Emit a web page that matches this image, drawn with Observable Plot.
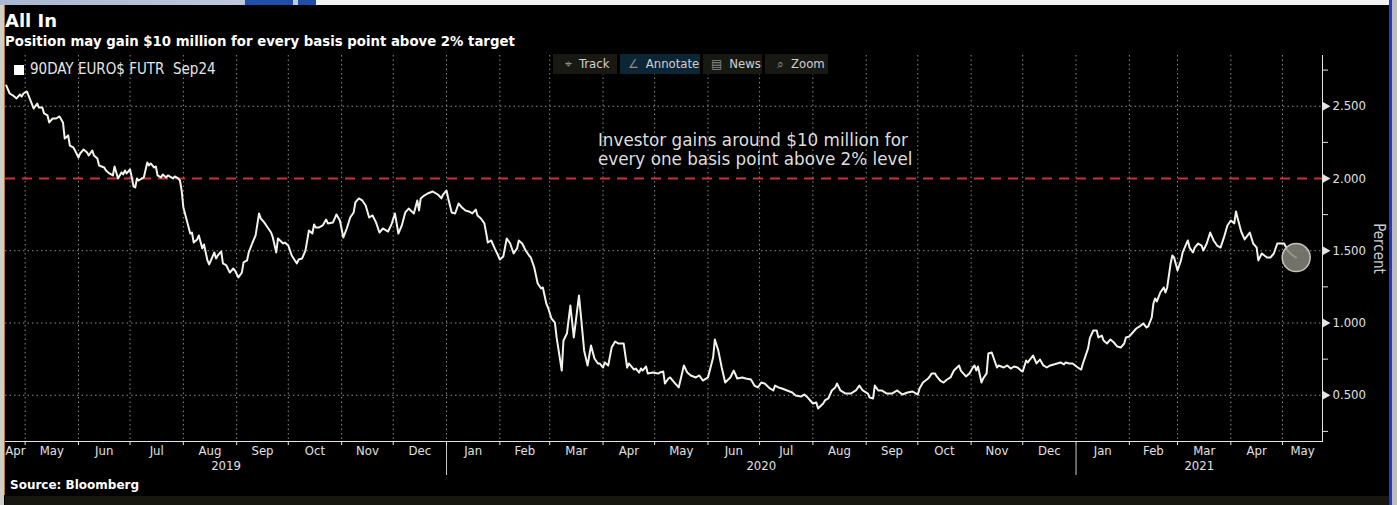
<!DOCTYPE html>
<html>
<head>
<meta charset="utf-8">
<script src="https://cdn.jsdelivr.net/npm/d3@7"></script>
<script src="https://cdn.jsdelivr.net/npm/@observablehq/plot@0.6"></script>
<style>
  html, body { margin: 0; padding: 0; background: #000; }
  body { width: 1397px; height: 505px; position: relative; overflow: hidden;
         font-family: "DejaVu Sans Condensed", "DejaVu Sans", sans-serif; }
  #title { position: absolute; left: 5px; top: 11px; font: bold 18px/20px "DejaVu Sans", sans-serif; color: #fff; white-space: nowrap; }
  #subtitle { position: absolute; left: 5px; top: 34px; font: bold 13.3px/15px "DejaVu Sans", sans-serif; color: #fff; white-space: nowrap; }
  #chart { position: absolute; left: 0; top: 50px; }
  #legend { position: absolute; left: 14px; top: 61px; font: 15px/17px "DejaVu Sans Condensed", sans-serif; color: #e6e6e6; white-space: nowrap; }
  #legend .sw { display: inline-block; width: 10px; height: 10px; background: #fff; margin-right: 6px; vertical-align: -1px; }
  #toolbar { position: absolute; left: 553px; top: 54px; height: 20px; }
  #toolbar span.btn { position: absolute; top: 0; height: 20px; font: 13px/20px "DejaVu Sans Condensed", sans-serif; color: #d0d0d0; background: #191914; box-sizing: border-box; white-space: nowrap; }
  #toolbar span.btn i { font-style: normal; color: #8d8d8d; margin-right: 7px; font-family: "DejaVu Sans", sans-serif; font-size: 12px; }
  #toolbar span.on { background: #0d2636; }
  #source { position: absolute; left: 10px; top: 478px; font: bold 12px/14px "DejaVu Sans", sans-serif; color: #fff; white-space: nowrap; }
  .edge { position: absolute; }
</style>
</head>
<body>
<div class="edge" style="left:0;top:0;width:1397px;height:5px;background:#f2f2f2"></div>
<div class="edge" style="left:0;top:0;width:312px;height:5px;background:linear-gradient(90deg,#a9b7d2,#c3cde0)"></div>
<div class="edge" style="left:245px;top:0;width:48px;height:5px;background:#1f4fa8"></div>
<div class="edge" style="left:298px;top:0;width:18px;height:5px;background:#1f4fa8"></div>
<div class="edge" style="left:0;top:5px;width:4px;height:500px;background:#cfcfc6"></div>
<div class="edge" style="left:4px;top:5px;width:1px;height:490px;background:#b8762a"></div>
<div class="edge" style="left:1389px;top:0;width:3px;height:505px;background:#2336d6"></div>
<div class="edge" style="left:1392px;top:0;width:5px;height:505px;background:#bdbdbd"></div>
<div class="edge" style="left:5px;top:496px;width:1384px;height:9px;background:#17170f"></div>

<div id="title"></div>
<div id="subtitle"></div>
<div id="chart"></div>
<div id="legend"><span class="sw"></span><span id="legendText"></span></div>
<div id="toolbar"></div>
<div id="source"></div>

<script>
// ---------- text ----------
const titleText = "All In";
const subtitleText = "Position may gain $10 million for every basis point above 2% target";
const sourceText = "Source: Bloomberg";
const legendLabel = "90DAY EURO$ FUTR\u00a0\u00a0Sep24";
const toolbarItems = [
  {label: "Track", icon: "\u2316", on: false},
  {label: "Annotate", icon: "\u2220", on: true},
  {label: "News", icon: "\u25a4", on: false},
  {label: "Zoom", icon: "\u2315", on: false}
];
const yAxisLabel = "Percent";
const annotationLines = ["Investor gains around $10 million for", "every one basis point above 2% level"];
const annotationAt = {date: "2020-03-29", value: 2.325};

// ---------- scales / ticks ----------
const xStart = "2019-04-19T14:00:00Z";
const xEnd = "2021-05-24T07:00:00Z";
const yDomain = [0.18, 2.851];
const yMajorTicks = [0.5, 1.0, 1.5, 2.0, 2.5];
const yMinorTicks = [0.25, 0.75, 1.25, 1.75, 2.25, 2.75];
const yGridLines = [0.5, 1.0, 1.5, 2.5];
const targetLevel = 2.0;

// ---------- series: 90-day Eurodollar future, Sep 2024 contract (implied rate, %) ----------
const euroDollarSep24 = [
["2019-04-20",2.644],["2019-04-22",2.588],["2019-04-24",2.574],["2019-04-26",2.554],["2019-04-28",2.581],["2019-04-29",2.567],["2019-04-30",2.588],
["2019-05-01",2.595],["2019-05-02",2.602],["2019-05-03",2.574],["2019-05-06",2.484],["2019-05-08",2.519],["2019-05-09",2.491],["2019-05-11",2.491],["2019-05-12",2.450],["2019-05-14",2.436],["2019-05-15",2.388],["2019-05-17",2.415],["2019-05-19",2.415],["2019-05-21",2.429],["2019-05-23",2.388],["2019-05-24",2.277],["2019-05-26",2.298],["2019-05-27",2.228],["2019-05-29",2.215],["2019-05-30",2.194],
["2019-06-01",2.145],["2019-06-02",2.173],["2019-06-04",2.201],["2019-06-06",2.180],["2019-06-07",2.159],["2019-06-09",2.194],["2019-06-10",2.159],["2019-06-12",2.138],["2019-06-13",2.090],["2019-06-16",2.076],["2019-06-17",2.055],["2019-06-19",2.035],["2019-06-21",2.021],["2019-06-22",2.083],["2019-06-23",2.042],["2019-06-24",2.000],["2019-06-26",2.042],["2019-06-27",2.028],["2019-06-28",2.055],["2019-06-29",2.035],
["2019-07-01",2.062],["2019-07-02",2.007],["2019-07-03",1.945],["2019-07-04",1.938],["2019-07-05",2.000],["2019-07-06",1.986],["2019-07-09",2.007],["2019-07-11",2.111],["2019-07-12",2.090],["2019-07-13",2.104],["2019-07-15",2.076],["2019-07-16",2.083],["2019-07-17",2.021],["2019-07-19",2.007],["2019-07-20",2.028],["2019-07-22",2.007],["2019-07-23",2.021],["2019-07-26",2.000],["2019-07-27",2.014],["2019-07-29",2.000],["2019-07-30",1.986],["2019-07-31",1.917],
["2019-08-01",1.799],["2019-08-03",1.709],["2019-08-05",1.619],["2019-08-06",1.626],["2019-08-07",1.557],["2019-08-09",1.578],["2019-08-10",1.606],["2019-08-12",1.516],["2019-08-13",1.543],["2019-08-15",1.433],["2019-08-16",1.405],["2019-08-19",1.488],["2019-08-20",1.446],["2019-08-21",1.467],["2019-08-23",1.495],["2019-08-24",1.412],["2019-08-26",1.398],["2019-08-28",1.349],["2019-08-30",1.377],["2019-08-31",1.363],
["2019-09-02",1.315],["2019-09-04",1.349],["2019-09-05",1.419],["2019-09-07",1.433],["2019-09-08",1.488],["2019-09-10",1.550],["2019-09-12",1.606],["2019-09-14",1.758],["2019-09-15",1.723],["2019-09-17",1.696],["2019-09-19",1.661],["2019-09-21",1.626],["2019-09-22",1.592],["2019-09-24",1.488],["2019-09-25",1.585],["2019-09-28",1.550],["2019-09-29",1.557],
["2019-10-01",1.536],["2019-10-03",1.467],["2019-10-06",1.412],["2019-10-07",1.439],["2019-10-09",1.446],["2019-10-11",1.502],["2019-10-13",1.640],["2019-10-15",1.619],["2019-10-16",1.682],["2019-10-17",1.661],["2019-10-19",1.661],["2019-10-21",1.675],["2019-10-23",1.716],["2019-10-24",1.689],["2019-10-27",1.696],["2019-10-29",1.751],["2019-10-31",1.709],
["2019-11-02",1.592],["2019-11-04",1.654],["2019-11-06",1.730],["2019-11-08",1.765],["2019-11-09",1.834],["2019-11-11",1.862],["2019-11-13",1.848],["2019-11-15",1.813],["2019-11-17",1.730],["2019-11-19",1.744],["2019-11-21",1.696],["2019-11-23",1.626],["2019-11-25",1.654],["2019-11-28",1.633],["2019-11-30",1.682],
["2019-12-02",1.758],["2019-12-04",1.619],["2019-12-06",1.675],["2019-12-08",1.765],["2019-12-10",1.792],["2019-12-13",1.758],["2019-12-15",1.848],["2019-12-16",1.779],["2019-12-17",1.862],["2019-12-19",1.882],["2019-12-21",1.896],["2019-12-24",1.910],["2019-12-27",1.889],["2019-12-29",1.862],["2019-12-30",1.889],
["2020-01-01",1.917],["2020-01-02",1.862],["2020-01-04",1.765],["2020-01-06",1.758],["2020-01-08",1.827],["2020-01-10",1.799],["2020-01-12",1.779],["2020-01-14",1.772],["2020-01-16",1.758],["2020-01-18",1.785],["2020-01-19",1.744],["2020-01-21",1.723],["2020-01-23",1.689],["2020-01-24",1.626],["2020-01-25",1.557],["2020-01-27",1.571],["2020-01-29",1.516],["2020-01-31",1.467],
["2020-02-01",1.439],["2020-02-03",1.460],["2020-02-04",1.522],["2020-02-05",1.585],["2020-02-07",1.550],["2020-02-09",1.481],["2020-02-11",1.516],["2020-02-12",1.571],["2020-02-14",1.550],["2020-02-16",1.502],["2020-02-18",1.467],["2020-02-19",1.453],["2020-02-21",1.384],["2020-02-23",1.273],["2020-02-25",1.239],["2020-02-26",1.246],["2020-02-28",1.135],["2020-02-29",1.107],
["2020-03-02",1.031],["2020-03-04",1.003],["2020-03-05",0.900],["2020-03-08",0.671],["2020-03-09",0.879],["2020-03-11",0.927],["2020-03-13",1.121],["2020-03-15",0.900],["2020-03-18",1.190],["2020-03-19",1.066],["2020-03-21",0.810],["2020-03-23",0.706],["2020-03-25",0.844],["2020-03-27",0.754],["2020-03-29",0.720],["2020-03-30",0.720],
["2020-04-01",0.692],["2020-04-02",0.727],["2020-04-04",0.706],["2020-04-06",0.830],["2020-04-08",0.872],["2020-04-10",0.858],["2020-04-13",0.858],["2020-04-15",0.692],["2020-04-16",0.720],["2020-04-19",0.678],["2020-04-20",0.685],["2020-04-22",0.657],["2020-04-23",0.685],["2020-04-24",0.671],["2020-04-26",0.699],["2020-04-27",0.650],["2020-04-30",0.657],
["2020-05-03",0.650],["2020-05-04",0.657],["2020-05-06",0.664],["2020-05-07",0.581],["2020-05-09",0.616],["2020-05-10",0.623],["2020-05-13",0.581],["2020-05-15",0.554],["2020-05-18",0.706],["2020-05-20",0.657],["2020-05-22",0.637],["2020-05-25",0.623],["2020-05-27",0.637],["2020-05-29",0.602],
["2020-06-01",0.623],["2020-06-04",0.761],["2020-06-05",0.886],["2020-06-07",0.810],["2020-06-09",0.692],["2020-06-11",0.588],["2020-06-14",0.623],["2020-06-16",0.671],["2020-06-18",0.616],["2020-06-21",0.623],["2020-06-23",0.616],["2020-06-26",0.609],["2020-06-28",0.567],["2020-06-30",0.554],
["2020-07-02",0.588],["2020-07-04",0.581],["2020-07-07",0.547],["2020-07-09",0.533],["2020-07-10",0.567],["2020-07-12",0.554],["2020-07-14",0.547],["2020-07-17",0.533],["2020-07-20",0.519],["2020-07-22",0.498],["2020-07-25",0.491],["2020-07-27",0.505],["2020-07-29",0.484],["2020-07-31",0.457],
["2020-08-01",0.443],["2020-08-03",0.450],["2020-08-04",0.408],["2020-08-07",0.443],["2020-08-08",0.464],["2020-08-10",0.478],["2020-08-12",0.533],["2020-08-14",0.554],["2020-08-15",0.581],["2020-08-17",0.533],["2020-08-20",0.512],["2020-08-23",0.512],["2020-08-26",0.533],["2020-08-28",0.567],["2020-08-30",0.533],
["2020-09-02",0.512],["2020-09-03",0.484],["2020-09-05",0.478],["2020-09-06",0.567],["2020-09-08",0.533],["2020-09-10",0.533],["2020-09-13",0.512],["2020-09-16",0.512],["2020-09-19",0.533],["2020-09-22",0.505],["2020-09-25",0.519],["2020-09-28",0.526],
["2020-10-01",0.505],["2020-10-02",0.547],["2020-10-04",0.588],["2020-10-07",0.616],["2020-10-08",0.630],["2020-10-09",0.651],["2020-10-11",0.651],["2020-10-12",0.630],["2020-10-14",0.602],["2020-10-16",0.588],["2020-10-18",0.609],["2020-10-20",0.623],["2020-10-22",0.671],["2020-10-25",0.706],["2020-10-26",0.671],["2020-10-29",0.630],["2020-10-31",0.651],
["2020-11-02",0.692],["2020-11-03",0.706],["2020-11-04",0.671],["2020-11-05",0.699],["2020-11-07",0.588],["2020-11-08",0.616],["2020-11-10",0.651],["2020-11-11",0.789],["2020-11-13",0.796],["2020-11-14",0.761],["2020-11-16",0.692],["2020-11-17",0.706],["2020-11-20",0.692],["2020-11-22",0.706],["2020-11-24",0.685],["2020-11-26",0.699],["2020-11-28",0.692],["2020-11-30",0.671],
["2020-12-01",0.664],["2020-12-03",0.740],["2020-12-04",0.727],["2020-12-07",0.775],["2020-12-09",0.720],["2020-12-11",0.747],["2020-12-13",0.706],["2020-12-15",0.692],["2020-12-17",0.706],["2020-12-19",0.713],["2020-12-21",0.720],["2020-12-23",0.727],["2020-12-25",0.713],["2020-12-26",0.727],["2020-12-28",0.720],["2020-12-30",0.720],
["2021-01-02",0.692],["2021-01-04",0.678],["2021-01-05",0.720],["2021-01-08",0.824],["2021-01-09",0.893],["2021-01-11",0.948],["2021-01-13",0.948],["2021-01-14",0.900],["2021-01-16",0.913],["2021-01-17",0.879],["2021-01-19",0.858],["2021-01-21",0.886],["2021-01-23",0.865],["2021-01-25",0.837],["2021-01-27",0.830],["2021-01-29",0.858],["2021-01-30",0.900],
["2021-02-01",0.907],["2021-02-03",0.934],["2021-02-05",0.962],["2021-02-07",0.976],["2021-02-09",0.997],["2021-02-11",0.969],["2021-02-12",0.976],["2021-02-14",1.038],["2021-02-15",1.135],["2021-02-16",1.170],["2021-02-17",1.149],["2021-02-19",1.211],["2021-02-21",1.246],["2021-02-22",1.211],["2021-02-23",1.246],["2021-02-25",1.412],["2021-02-26",1.467],["2021-02-27",1.453],
["2021-03-01",1.363],["2021-03-03",1.433],["2021-03-04",1.488],["2021-03-07",1.571],["2021-03-08",1.522],["2021-03-10",1.488],["2021-03-11",1.522],["2021-03-13",1.550],["2021-03-15",1.536],["2021-03-16",1.502],["2021-03-18",1.550],["2021-03-20",1.626],["2021-03-22",1.571],["2021-03-24",1.536],["2021-03-26",1.522],["2021-03-28",1.592],["2021-03-30",1.675],
["2021-04-01",1.709],["2021-04-03",1.689],["2021-04-04",1.772],["2021-04-05",1.723],["2021-04-07",1.633],["2021-04-09",1.578],["2021-04-12",1.626],["2021-04-14",1.550],["2021-04-16",1.522],["2021-04-17",1.433],["2021-04-19",1.481],["2021-04-22",1.453],["2021-04-24",1.453],["2021-04-26",1.481],["2021-04-28",1.550],["2021-04-30",1.550],
["2021-05-02",1.550],["2021-05-04",1.502],["2021-05-07",1.467],["2021-05-09",1.453]
];

// ---------- build ----------
document.getElementById("title").textContent = titleText;
document.getElementById("subtitle").textContent = subtitleText;
document.getElementById("source").textContent = sourceText;
document.getElementById("legendText").textContent = legendLabel;
const tb = document.getElementById("toolbar");
const btnLeft = [0, 67, 150, 212];
const btnWidth = [64, 80, 59, 63];
const btnPad = [12, 8, 8, 12];
toolbarItems.forEach((b, i) => {
  const s = document.createElement("span");
  s.className = "btn" + (b.on ? " on" : "");
  s.style.left = btnLeft[i] + "px";
  s.style.width = btnWidth[i] + "px";
  s.style.paddingLeft = btnPad[i] + "px";
  const ic = document.createElement("i");
  ic.textContent = b.icon;
  s.appendChild(ic);
  s.appendChild(document.createTextNode(b.label));
  tb.appendChild(s);
});

const parse = d3.utcParse("%Y-%m-%d");
const data = euroDollarSep24.map(([d, v]) => ({date: parse(d), value: v}));
const last = data[data.length - 1];
const d0 = new Date(xStart), d1 = new Date(xEnd);

const monthStarts = d3.utcMonth.range(d0, d1);
const fmtMonth = d3.utcFormat("%b");
const monthLabels = d3.utcMonth.range(d3.utcMonth.floor(d0), d1).map(m => {
  const a = Math.max(+m, +d0), b = Math.min(+d3.utcMonth.offset(m, 1), +d1);
  return {mid: new Date((a + b) / 2), label: fmtMonth(m)};
});
const yearStarts = d3.utcYear.range(d0, d1);
const yearLabels = d3.utcYear.range(d3.utcYear.floor(d0), d1).map(y => {
  const a = Math.max(+y, +d0), b = Math.min(+d3.utcYear.offset(y, 1), +d1);
  return {mid: new Date((a + b) / 2), label: String(y.getUTCFullYear())};
});
const annotation = {date: parse(annotationAt.date), value: annotationAt.value, text: annotationLines.join("\n")};
const yMid = (yDomain[0] + yDomain[1]) / 2;

const axisColor = "#e4e4e4";
const gridColor = "#8a8a8a";
const chart = Plot.plot({
  width: 1397,
  height: 431,
  marginTop: 5,
  marginBottom: 40,
  marginLeft: 5,
  marginRight: 75,
  style: {background: "transparent", color: "#e0e0e0", fontFamily: "'DejaVu Sans Condensed', 'DejaVu Sans', sans-serif", fontSize: "13px", overflow: "visible"},
  x: {type: "utc", domain: [d0, d1]},
  y: {domain: yDomain},
  marks: [
    Plot.ruleX(monthStarts, {stroke: gridColor, strokeDasharray: "1.5,3", strokeWidth: 1}),
    Plot.ruleY(yGridLines, {stroke: gridColor, strokeDasharray: "1.5,3", strokeWidth: 1}),
    Plot.ruleY([targetLevel], {stroke: "#c8313a", strokeWidth: 2, strokeDasharray: "10,7"}),
    Plot.line(data, {x: "date", y: "value", stroke: "#f3f3ea", strokeWidth: 2}),
    Plot.dot([last], {x: "date", y: "value", r: 14, fill: "#86867c", fillOpacity: 0.85, stroke: "#c4c4b8", strokeWidth: 1.5}),
    Plot.text([annotation], {x: "date", y: "value", text: "text", textAnchor: "start", lineAnchor: "top", lineHeight: 1.18, fill: "#dedede", fontSize: 16.8, fontFamily: "'DejaVu Sans', sans-serif"}),
    Plot.frame({anchor: "bottom", stroke: axisColor}),
    Plot.frame({anchor: "right", stroke: axisColor}),
    Plot.axisX({ticks: monthStarts, tickSize: 4, tickFormat: () => "", label: null, stroke: axisColor}),
    Plot.text(monthLabels, {x: "mid", text: "label", frameAnchor: "bottom", dy: 13, fill: "#e0e0e0"}),
    Plot.text(yearLabels, {x: "mid", text: "label", frameAnchor: "bottom", dy: 28, fill: "#e0e0e0"}),
    Plot.ruleX(yearStarts, {stroke: "#c8c8c8", insetTop: 390, insetBottom: -34}),
    Plot.axisY({anchor: "right", ticks: yMajorTicks, tickSize: 0, tickPadding: 10, tickFormat: d3.format(".3f"), label: null, fill: "#e0e0e0"}),
    Plot.axisY({anchor: "right", ticks: yMinorTicks, tickSize: 5, tickFormat: () => "", label: null, stroke: axisColor}),
    Plot.dot(yMajorTicks, {x: () => d1, y: d => d, symbol: "triangle", r: 3.2, rotate: 90, fill: axisColor, dx: 3}),
    Plot.text([yAxisLabel], {text: d => d, x: () => d1, y: () => yMid, dx: 56, rotate: 90, textAnchor: "middle", lineAnchor: "middle", fontSize: 15, fill: "#c9cdd2"})
  ]
});
document.getElementById("chart").appendChild(chart);
</script>
</body>
</html>
